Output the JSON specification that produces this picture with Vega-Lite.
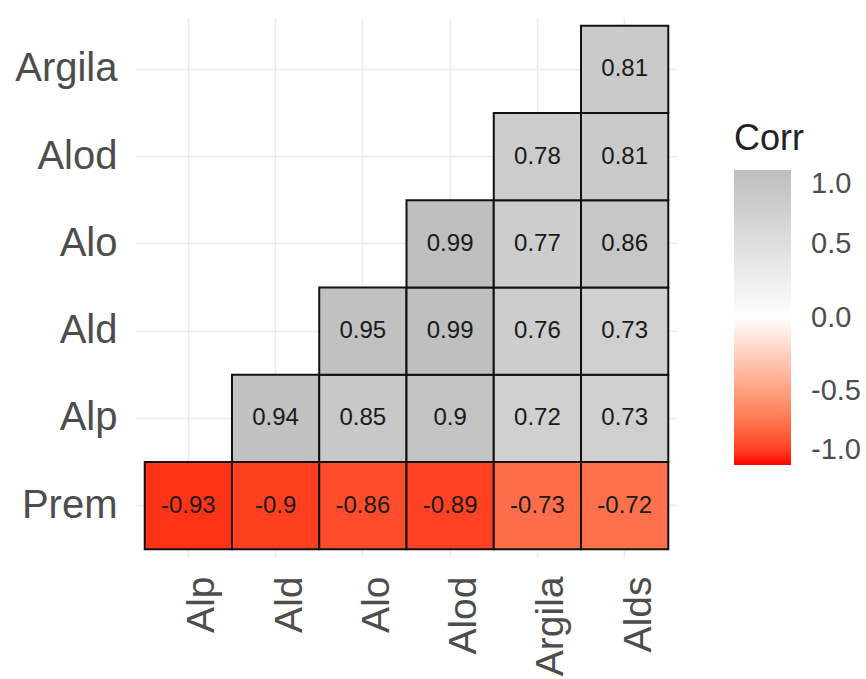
{
  "$schema": "https://vega.github.io/schema/vega-lite/v6.json",
  "width": 541,
  "height": 541,
  "autosize": {"type": "none"},
  "padding": {"left": 136, "top": 17, "right": 189, "bottom": 121},
  "background": "white",
  "config": {
    "view": {"stroke": null},
    "font": "Liberation Sans",
    "locale": {"number": {"decimal": ".", "thousands": ",", "grouping": [3], "currency": ["$", ""], "minus": "-"}}
  },
  "data": {
    "values": [
      {"var1": "Alp", "var2": "Prem", "corr": -0.93},
      {"var1": "Ald", "var2": "Prem", "corr": -0.9},
      {"var1": "Alo", "var2": "Prem", "corr": -0.86},
      {"var1": "Alod", "var2": "Prem", "corr": -0.89},
      {"var1": "Argila", "var2": "Prem", "corr": -0.73},
      {"var1": "Alds", "var2": "Prem", "corr": -0.72},
      {"var1": "Ald", "var2": "Alp", "corr": 0.94},
      {"var1": "Alo", "var2": "Alp", "corr": 0.85},
      {"var1": "Alod", "var2": "Alp", "corr": 0.9},
      {"var1": "Argila", "var2": "Alp", "corr": 0.72},
      {"var1": "Alds", "var2": "Alp", "corr": 0.73},
      {"var1": "Alo", "var2": "Ald", "corr": 0.95},
      {"var1": "Alod", "var2": "Ald", "corr": 0.99},
      {"var1": "Argila", "var2": "Ald", "corr": 0.76},
      {"var1": "Alds", "var2": "Ald", "corr": 0.73},
      {"var1": "Alod", "var2": "Alo", "corr": 0.99},
      {"var1": "Argila", "var2": "Alo", "corr": 0.77},
      {"var1": "Alds", "var2": "Alo", "corr": 0.86},
      {"var1": "Argila", "var2": "Alod", "corr": 0.78},
      {"var1": "Alds", "var2": "Alod", "corr": 0.81},
      {"var1": "Alds", "var2": "Argila", "corr": 0.81}
    ]
  },
  "encoding": {
    "x": {
      "field": "var1",
      "type": "nominal",
      "sort": ["Alp", "Ald", "Alo", "Alod", "Argila", "Alds"],
      "scale": {"paddingInner": 0, "paddingOuter": 0.1},
      "axis": {
        "title": null,
        "domain": false,
        "ticks": false,
        "grid": true,
        "zindex": 0,
        "bandPosition": 0.5,
        "gridColor": "#EBEBEB",
        "gridWidth": 1.5,
        "labelAngle": 270,
        "labelAlign": "right",
        "labelBaseline": "middle",
        "labelOffset": 14,
        "labelPadding": 18,
        "labelFontSize": 39,
        "labelColor": "#4D4D4D"
      }
    },
    "y": {
      "field": "var2",
      "type": "nominal",
      "sort": ["Argila", "Alod", "Alo", "Ald", "Alp", "Prem"],
      "scale": {"paddingInner": 0, "paddingOuter": 0.1},
      "axis": {
        "title": null,
        "domain": false,
        "ticks": false,
        "grid": true,
        "zindex": 0,
        "bandPosition": 0.5,
        "gridColor": "#EBEBEB",
        "gridWidth": 1.5,
        "labelAlign": "right",
        "labelBaseline": "middle",
        "labelPadding": 19,
        "labelFontSize": 40,
        "labelColor": "#4D4D4D"
      }
    }
  },
  "layer": [
    {
      "mark": {"type": "rect", "stroke": "#111111", "strokeWidth": 2},
      "encoding": {
        "color": {
          "field": "corr",
          "type": "quantitative",
          "scale": {"domain": [-1, 0, 1], "range": ["#FF0000", "#FFFFFF", "#BEBEBE"], "interpolate": "lab"},
          "legend": {
            "title": "Corr",
            "orient": "none",
            "legendX": 598,
            "legendY": 105,
            "direction": "vertical",
            "values": [1, 0.5, 0, -0.5, -1],
            "format": ".1f",
            "gradientLength": 295,
            "gradientThickness": 57,
            "gradientStrokeWidth": 0,
            "titleFontSize": 36,
            "titleFontWeight": "normal",
            "titleColor": "#222222",
            "titlePadding": 12,
            "labelFontSize": 29,
            "labelColor": "#4D4D4D",
            "labelOffset": 20,
            "labelBaseline": "middle",
            "labelOverlap": false
          }
        }
      }
    },
    {
      "mark": {"type": "text", "fontSize": 24, "color": "#1A1A1A"},
      "encoding": {
        "text": {"field": "corr", "type": "quantitative", "format": "~g"}
      }
    }
  ]
}
